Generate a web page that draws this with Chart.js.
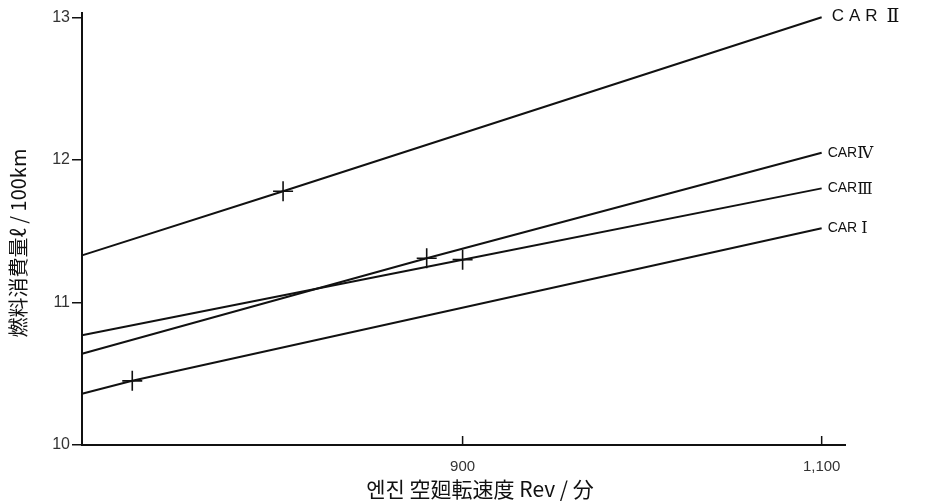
<!DOCTYPE html>
<html>
<head>
<meta charset="utf-8">
<script src="https://cdn.jsdelivr.net/npm/chart.js@4/dist/chart.umd.min.js"></script>
<style>
  html, body { margin: 0; padding: 0; background: #fff; }
  #wrap { width: 927px; height: 503px; }
</style>
</head>
<body>
<div id="wrap"><canvas id="c" width="927" height="503"></canvas></div>
<script>
// ---- data ----
const seriesNames = ['CAR', 'CAR', 'CAR', 'CAR'];
const seriesNumerals = ['Ⅰ', 'Ⅱ', 'Ⅲ', 'Ⅳ'];
// [rev, litres/100km] : axis start, marked point, 1,100 rev
const carI   = [[688, 10.36], [716, 10.45], [1100, 11.52]];
const carII  = [[688, 11.33], [800, 11.78], [1100, 13.00]];
const carIII = [[688, 10.77], [900, 11.30], [1100, 11.80]];
const carIV  = [[688, 10.64], [880, 11.31], [1100, 12.05]];
const xTickValues = [900, 1100];
const yTickValues = [10, 11, 12, 13];
const xTitle = '엔진 空廻転速度 Rev / 分';
const yTitle = '燃料消費量ℓ / 100km';

const seriesData = [carI, carII, carIII, carIV];

const datasets = seriesData.map((arr, i) => ({
  label: seriesNames[i] + ' ' + seriesNumerals[i],
  data: arr.map(p => ({ x: p[0], y: p[1] })),
  showLine: true,
  borderColor: '#111',
  borderWidth: 2,
  pointStyle: 'cross',
  pointRadius: arr.map((p, j) => (j === 1 ? 10 : 0)),
  pointHoverRadius: 0,
  pointBorderColor: '#111',
  pointBorderWidth: 1.6,
  tension: 0,
  clip: false
}));

const labelPlugin = {
  id: 'lineLabels',
  afterDatasetsDraw(chart) {
    const ctx = chart.ctx;
    ctx.save();
    ctx.fillStyle = '#111';
    ctx.textBaseline = 'middle';
    ctx.textAlign = 'left';
    chart.data.datasets.forEach((ds, i) => {
      const meta = chart.getDatasetMeta(i);
      const last = meta.data[meta.data.length - 1];
      const big = i === 1;
      let x = last.x + (big ? 10 : 6);
      const y = last.y + (big ? -1 : 0);
      const size = big ? 17 : 14;
      ctx.font = size + 'px "Liberation Sans"';
      ctx.letterSpacing = big ? '5px' : '0px';
      ctx.fillText(seriesNames[i], x, y);
      x += ctx.measureText(seriesNames[i]).width + (big ? 4 : (i === 0 ? 4 : 0));
      ctx.letterSpacing = '0px';
      ctx.font = (size + 2) + 'px "DejaVu Serif", "Liberation Serif"';
      ctx.fillText(seriesNumerals[i], x, y + 1);
    });
    ctx.restore();
  }
};

const axisExtras = {
  id: 'axisExtras',
  afterDraw(chart) {
    const ctx = chart.ctx;
    const xs = chart.scales.x;
    const area = chart.chartArea;
    ctx.save();
    ctx.strokeStyle = '#111';
    ctx.lineWidth = 1.5;
    xTickValues.forEach(v => {
      const px = xs.getPixelForValue(v);
      ctx.beginPath();
      ctx.moveTo(px, area.bottom);
      ctx.lineTo(px, area.bottom - 9);
      ctx.stroke();
    });
    ctx.fillStyle = '#111';
    ctx.textAlign = 'center';
    ctx.textBaseline = 'middle';
    ctx.font = '21px "Noto Sans CJK JP", "Noto Sans CJK KR"';
    ctx.fillText(xTitle, 480, 489);
    ctx.translate(18, 243);
    ctx.rotate(-Math.PI / 2);
    ctx.font = '20px "Noto Sans CJK JP", "Liberation Sans"';
    ctx.fillText(yTitle, 0, 0);
    ctx.restore();
  }
};

new Chart(document.getElementById('c'), {
  type: 'scatter',
  data: { datasets },
  options: {
    responsive: false,
    animation: false,
    events: [],
    layout: { padding: { left: 0, right: 82, top: 13, bottom: 0 } },
    plugins: { legend: { display: false }, tooltip: { enabled: false } },
    scales: {
      x: {
        type: 'linear',
        min: 688,
        max: 1113,
        afterBuildTicks(scale) { scale.ticks = xTickValues.map(v => ({ value: v })); },
        afterFit(scale) { scale.height = 58; },
        grid: { display: false },
        border: { display: true, color: '#111', width: 2 },
        ticks: {
          padding: 5,
          color: '#333',
          font: { family: '"Liberation Sans"', size: 15 },
          callback: v => v.toLocaleString('en-US')
        }
      },
      y: {
        type: 'linear',
        min: 10,
        max: 13.03,
        afterBuildTicks(scale) { scale.ticks = yTickValues.map(v => ({ value: v })); },
        afterFit(scale) { scale.width = 82; },
        grid: { drawOnChartArea: false, drawTicks: true, tickLength: 10, color: '#111', lineWidth: 1.5 },
        border: { display: true, color: '#111', width: 2 },
        ticks: {
          padding: 2,
          color: '#333',
          font: { family: '"Liberation Sans"', size: 16 }
        }
      }
    }
  },
  plugins: [labelPlugin, axisExtras]
});
</script>
</body>
</html>
